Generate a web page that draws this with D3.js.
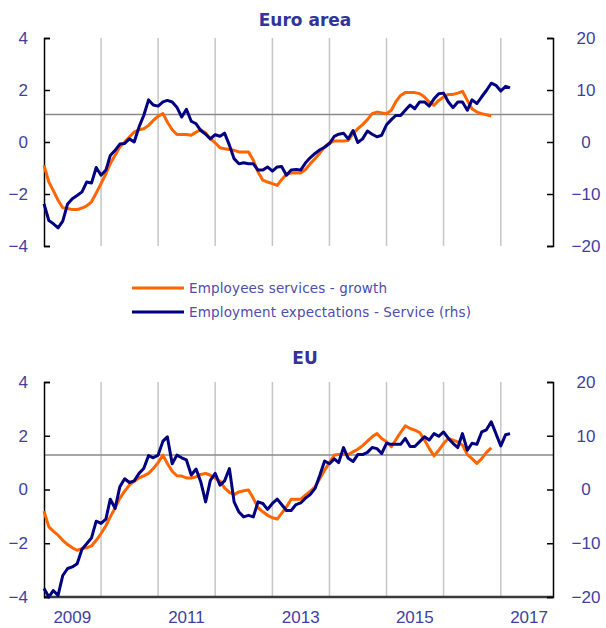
<!DOCTYPE html>
<html>
<head>
<meta charset="utf-8">
<script src="https://cdn.jsdelivr.net/npm/d3@7"></script>
<style>
body { margin: 0; background: #fff; }
text { font-family: "Liberation Sans", Arial, sans-serif; }
</style>
</head>
<body>
<svg id="chart" width="606" height="628"></svg>
<script>
// monthly values, first value is Jan 2009
let startYear = 2009

// Euro area
let eaServices = [-0.9, -1.54, -1.86, -2.24, -2.53, -2.56, -2.6, -2.6, -2.54, -2.46,
    -2.3, -1.96, -1.6, -1.22, -0.83, -0.51, -0.19, 0, 0.19, 0.38,
    0.47, 0.51, 0.64, 0.83, 0.99, 1.09, 0.77, 0.47, 0.29, 0.29,
    0.29, 0.26, 0.38, 0.47, 0.35, 0.13, -0.03, -0.22, -0.26, -0.29,
    -0.32, -0.38, -0.38, -0.38, -0.7, -1.15, -1.47, -1.54, -1.6, -1.67,
    -1.45, -1.24, -1.19, -1.19, -1.19, -1.06, -0.83, -0.64, -0.42, -0.19,
    -0.04, 0.04, 0.04, 0.04, 0.06, 0.32, 0.51, 0.67, 0.86, 1.09,
    1.15, 1.12, 1.09, 1.22, 1.54, 1.79, 1.9, 1.9, 1.9, 1.86,
    1.73, 1.54, 1.41, 1.6, 1.73, 1.83, 1.83, 1.88, 1.95, 1.6,
    1.28, 1.15, 1.09, 1.05, 1.0]
let eaExpect = [-11.9, -15.1, -15.7, -16.5, -15.2, -11.9, -10.9, -10.3, -9.6, -7.7,
    -7.9, -4.9, -6.4, -5.4, -2.6, -1.6, -0.4, -0.3, 0.6, 0,
    2.9, 5.1, 8.1, 7.1, 6.9, 7.7, 8.0, 7.7, 6.7, 4.8,
    6.3, 4.0, 3.5, 2.2, 1.5, 0.6, 1.4, 1.1, 1.7, -0.6,
    -3.2, -4.2, -4.0, -4.2, -4.2, -5.4, -5.4, -4.8, -5.6, -4.8,
    -4.7, -6.4, -5.4, -5.3, -5.4, -4.0, -3.0, -2.2, -1.5, -1.0,
    -0.3, 1.1, 1.5, 1.7, 0.6, 2.2, -0.1, 0.6, 2.1, 1.5,
    1.0, 1.3, 3.3, 4.3, 5.1, 5.1, 6.1, 7.1, 6.4, 7.7,
    7.7, 6.9, 8.3, 9.3, 9.4, 7.7, 6.6, 7.7, 7.7, 6.1,
    8.1, 7.4, 8.7, 9.9, 11.3, 10.9, 9.8, 10.7, 10.4]

// EU
let euServices = [-0.81, -1.39, -1.55, -1.7, -1.89, -2.05, -2.17, -2.26, -2.2, -2.17,
    -2.1, -1.89, -1.64, -1.35, -1.02, -0.68, -0.33, -0.06, 0.16, 0.31,
    0.43, 0.51, 0.6, 0.78, 1.0, 1.28, 0.97, 0.68, 0.51, 0.5,
    0.43, 0.43, 0.47, 0.56, 0.6, 0.53, 0.42, 0.31, 0.06, -0.11,
    -0.19, -0.09, -0.05, -0.02, -0.33, -0.68, -0.83, -0.96, -1.05, -1.1,
    -0.89, -0.65, -0.36, -0.36, -0.36, -0.21, -0.06, 0.1, 0.41, 0.72,
    1.0, 1.28, 1.3, 1.3, 1.3, 1.4, 1.5, 1.63, 1.8, 1.96,
    2.08, 1.9, 1.78, 1.59, 1.84, 2.12, 2.37, 2.27, 2.21, 2.12,
    1.84, 1.53, 1.25, 1.46, 1.71, 1.9, 1.84, 1.77, 1.65, 1.3,
    1.15, 0.97, 1.15, 1.38, 1.55]
let euExpect = [-18.4, -20, -18.8, -19.7, -16.0, -14.7, -14.4, -13.8, -11.1, -10.1,
    -9.0, -5.9, -6.3, -5.5, -1.8, -3.5, 0.5, 2.0, 1.3, 1.6,
    3.0, 3.9, 6.3, 5.9, 6.4, 9.0, 9.8, 4.8, 6.4, 5.9,
    5.5, 2.7, 3.8, 1.4, -2.3, 1.7, 3.0, 0.8, 1.6, 3.9,
    -2.3, -4.2, -5.1, -4.8, -5.1, -2.3, -2.6, -3.7, -2.6, -1.8,
    -2.8, -3.9, -3.9, -2.8, -2.5, -1.6, -0.9, 0.2, 2.7, 5.3,
    4.8, 5.7, 5.0, 7.8, 5.8, 5.2, 6.5, 6.5, 6.9, 7.8,
    7.6, 6.7, 8.6, 8.4, 8.4, 8.4, 9.5, 8.0, 8.0, 8.9,
    9.8, 9.2, 10.4, 9.9, 10.7, 9.5, 8.6, 7.8, 10.4, 7.3,
    8.6, 8.4, 10.7, 11.1, 12.6, 10.4, 8.1, 10.2, 10.4]

let eaAverage = 1.06
let euAverage = 1.28
let leftTicks = [-4, -2, 0, 2, 4]
let rightTicks = [-20, -10, 0, 10, 20]
let gridYears = [2010, 2011, 2012, 2013, 2014, 2015, 2016, 2017]
let yearLabels = [2009, 2011, 2013, 2015, 2017]
let legendLabels = ["Employees services - growth", "Employment expectations - Service (rhs)"]

let left = 44, right = 553
let orange = "#ff6600", navy = "#000080", labelColor = "#3f3f9f"

let svg = d3.select("#chart")
let toDate = i => new Date(startYear, i, 1)
let xScale = d3.scaleTime()
    .domain([new Date(2009, 0, 1), new Date(2017, 11, 1)])
    .range([left, right])

function styleAxis(g) {
    g.attr("font-size", null).attr("font-family", null)
    g.select(".domain").attr("stroke", "#000").attr("stroke-width", 1.5)
    g.selectAll(".tick line").attr("stroke", "#000").attr("stroke-width", 1.5)
    g.selectAll(".tick text").attr("fill", labelColor).style("font-size", "17px")
}

function drawPanel(top, bottom, title, titleY, services, expect, average, withDates) {
    let yL = d3.scaleLinear().domain([-4, 4]).range([bottom, top])
    let yR = d3.scaleLinear().domain([-20, 20]).range([bottom, top])
    let g = svg.append("g")

    g.selectAll(".grid")
        .data(gridYears)
        .enter()
        .append("line")
        .attr("x1", d => xScale(new Date(d, 0, 1)))
        .attr("x2", d => xScale(new Date(d, 0, 1)))
        .attr("y1", top)
        .attr("y2", bottom)
        .attr("stroke", "#c6c6c6")
        .attr("stroke-width", 1.5)

    g.append("line")
        .attr("x1", left).attr("x2", right)
        .attr("y1", yL(average)).attr("y2", yL(average))
        .attr("stroke", "#8a8a8a")
        .attr("stroke-width", 1.5)

    if (withDates) {
        g.append("line")
            .attr("x1", left).attr("x2", right)
            .attr("y1", bottom).attr("y2", bottom)
            .attr("stroke", "#3a3a3a")
            .attr("stroke-width", 2.5)

        g.selectAll(".year")
            .data(yearLabels)
            .enter()
            .append("text")
            .attr("x", d => xScale(new Date(d, 6, 1)))
            .attr("y", bottom + 26)
            .attr("text-anchor", "middle")
            .attr("fill", labelColor)
            .style("font-size", "17px")
            .text(d => d)
    }

    g.append("g")
        .attr("transform", "translate(" + left + ",0)")
        .call(d3.axisLeft(yL).tickValues(leftTicks).tickSizeInner(-6).tickSizeOuter(-6).tickPadding(16))
        .call(styleAxis)

    g.append("g")
        .attr("transform", "translate(" + right + ",0)")
        .call(d3.axisRight(yR).tickValues(rightTicks).tickSizeInner(-6).tickSizeOuter(-6).tickPadding(33))
        .call(styleAxis)
        .selectAll(".tick text").attr("text-anchor", "middle")

    let lineL = d3.line().x((d, i) => xScale(toDate(i))).y(d => yL(d))
    let lineR = d3.line().x((d, i) => xScale(toDate(i))).y(d => yR(d))

    g.append("path")
        .datum(services)
        .attr("d", lineL)
        .attr("fill", "none")
        .attr("stroke", orange)
        .attr("stroke-width", 3)
        .attr("stroke-linejoin", "round")

    g.append("path")
        .datum(expect)
        .attr("d", lineR)
        .attr("fill", "none")
        .attr("stroke", navy)
        .attr("stroke-width", 3)
        .attr("stroke-linejoin", "round")

    g.append("text")
        .attr("x", 305)
        .attr("y", titleY)
        .attr("text-anchor", "middle")
        .attr("fill", "#333399")
        .style("font-family", "'DejaVu Sans', sans-serif")
        .style("font-weight", "bold")
        .style("font-size", "17px")
        .text(title)
}

drawPanel(38, 246, "Euro area", 26, eaServices, eaExpect, eaAverage, false)
drawPanel(382, 597, "EU", 364, euServices, euExpect, euAverage, true)

// legend
let legend = svg.append("g")
legend.selectAll("line")
    .data(legendLabels)
    .enter()
    .append("line")
    .attr("x1", 132).attr("x2", 184)
    .attr("y1", (d, i) => 288 + i * 24)
    .attr("y2", (d, i) => 288 + i * 24)
    .attr("stroke", (d, i) => i == 0 ? orange : navy)
    .attr("stroke-width", 3)

legend.selectAll("text")
    .data(legendLabels)
    .enter()
    .append("text")
    .attr("x", 189)
    .attr("y", (d, i) => 293 + i * 24)
    .attr("fill", "#4d4dab")
    .attr("textLength", (d, i) => i == 0 ? 198 : 282)
    .attr("lengthAdjust", "spacing")
    .style("font-family", "'DejaVu Sans', sans-serif")
    .style("font-size", "13.5px")
    .text(d => d)
</script>
</body>
</html>
